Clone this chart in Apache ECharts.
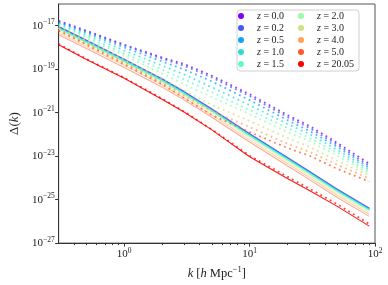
<!DOCTYPE html>
<html><head><meta charset="utf-8">
<script src="https://cdn.jsdelivr.net/npm/echarts@6/dist/echarts.min.js"></script>
<style>html,body{margin:0;padding:0;background:#fff}#c{width:388px;height:285px}</style>
</head><body><div id="c"></div>
<script>
// wavenumbers k [h/Mpc]
const K = [0.3, 0.5, 1, 2, 3, 5, 10, 20, 30, 50, 90];
const zLabels = ['0.0','0.2','0.5','1.0','1.5','2.0','3.0','4.0','5.0','20.05'];
const colors = ['#8000ff','#4757fb','#0ea4f0','#2adddd','#63fbc3','#9cfba4','#d4dd80','#ffa457','#ff572c','#ff0000'];

// log10 Δ(k), dotted (upper) curves
const dot_z00 = [-16.77,-17.23,-17.87,-18.46,-18.76,-19.30,-20.15,-21.11,-21.61,-22.39,-23.35];
const dot_z02 = [-16.82,-17.27,-17.91,-18.51,-18.84,-19.38,-20.24,-21.20,-21.70,-22.48,-23.44];
const dot_z05 = [-16.86,-17.32,-18.00,-18.64,-19.01,-19.56,-20.42,-21.34,-21.84,-22.57,-23.53];
const dot_z10 = [-16.91,-17.41,-18.14,-18.83,-19.24,-19.83,-20.65,-21.52,-21.98,-22.71,-23.62];
const dot_z15 = [-16.95,-17.50,-18.28,-19.01,-19.47,-20.06,-20.88,-21.70,-22.16,-22.84,-23.71];
const dot_z20 = [-17.00,-17.59,-18.37,-19.19,-19.69,-20.29,-21.06,-21.89,-22.30,-22.98,-23.80];
const dot_z30 = [-17.09,-17.68,-18.55,-19.42,-19.97,-20.65,-21.38,-22.16,-22.57,-23.21,-23.89];
const dot_z40 = [-17.18,-17.82,-18.69,-19.60,-20.20,-20.93,-21.66,-22.43,-22.80,-23.39,-24.03];
const dot_z50 = [-17.23,-17.87,-18.78,-19.69,-20.33,-21.11,-21.89,-22.62,-22.98,-23.58,-24.17];
const dot_z2005 = [-17.84,-18.53,-19.39,-20.35,-20.95,-21.77,-22.98,-23.94,-24.49,-25.21,-26.12];

// log10 Δ(k), solid (lower) curves
const sol_z00 = [-17.05,-17.68,-18.55,-19.45,-20.04,-20.84,-21.98,-23.07,-23.71,-24.53,-25.40];
const sol_z02 = [-17.07,-17.70,-18.57,-19.47,-20.06,-20.86,-22.00,-23.09,-23.73,-24.55,-25.42];
const sol_z05 = [-17.09,-17.72,-18.59,-19.49,-20.08,-20.88,-22.02,-23.11,-23.75,-24.57,-25.44];
const sol_z10 = [-17.11,-17.74,-18.61,-19.51,-20.10,-20.90,-22.04,-23.13,-23.77,-24.59,-25.46];
const sol_z15 = [-17.13,-17.76,-18.63,-19.53,-20.12,-20.92,-22.06,-23.15,-23.79,-24.61,-25.48];
const sol_z20 = [-17.14,-17.77,-18.64,-19.54,-20.13,-20.93,-22.07,-23.16,-23.80,-24.62,-25.49];
const sol_z30 = [-17.23,-17.86,-18.73,-19.63,-20.22,-21.02,-22.16,-23.25,-23.89,-24.71,-25.58];
const sol_z40 = [-17.32,-17.95,-18.82,-19.72,-20.31,-21.11,-22.25,-23.34,-23.98,-24.80,-25.67];
const sol_z50 = [-17.42,-18.05,-18.92,-19.82,-20.41,-21.21,-22.35,-23.44,-24.08,-24.90,-25.77];
const sol_z2005 = [-17.87,-18.55,-19.42,-20.38,-20.97,-21.79,-23.03,-24.03,-24.58,-25.31,-26.22];

const dotted = [dot_z00,dot_z02,dot_z05,dot_z10,dot_z15,dot_z20,dot_z30,dot_z40,dot_z50,dot_z2005];
const solid = [sol_z00,sol_z02,sol_z05,sol_z10,sol_z15,sol_z20,sol_z30,sol_z40,sol_z50,sol_z2005];

const yTicks = [1e-27,1e-25,1e-23,1e-21,1e-19,1e-17];
const xTicks = [1,10,100];
const xMinor = [0.4,0.5,0.6,0.7,0.8,0.9,2,3,4,5,6,7,8,9,20,30,40,50,60,70,80,90];

const serif = 'Liberation Serif';
const pts = arr => K.map((k,i) => [k, Math.pow(10, arr[i])]);

const series = [];
solid.forEach((arr,i) => {
  series.push({
    name: 'lin ' + zLabels[i], type: 'line', data: pts(arr), showSymbol: false, silent: true,
    lineStyle: {color: colors[i], width: i < 5 ? 1.6 : 1.1, opacity: i < 5 ? 0.75 : (i === 9 ? 0.9 : 0.5)},
    itemStyle: {color: colors[i]}, z: 2
  });
});
dotted.forEach((arr,i) => {
  series.push({
    name: 'z = ' + zLabels[i], type: 'line', data: pts(arr), showSymbol: false, silent: true,
    lineStyle: {color: colors[i], width: 1.8, type: [1.8, 3.6], opacity: 0.75},
    itemStyle: {color: colors[i]}, z: 3
  });
});

const supLabel = v => {
  const e = Math.round(Math.log10(v));
  return '{b|10}{s|' + (e < 0 ? '\u2212' + (-e) : e) + '}';
};
const labelRich = {
  b: {fontFamily: serif, fontSize: 11, color: '#222'},
  s: {fontFamily: serif, fontSize: 7.5, color: '#222', padding: [0,0,7,0]}
};

const chart = echarts.init(document.getElementById('c'), null, {renderer: 'canvas'});
chart.setOption({
  animation: false,
  backgroundColor: '#fff',
  grid: {left: 53, right: 13, top: 4, bottom: 40, show: true, borderColor: '#555', borderWidth: 1, backgroundColor: 'transparent'},
  legend: {
    data: zLabels.map(z => 'z = ' + z),
    orient: 'vertical', left: 237, top: 10, height: 60,
    itemWidth: 22, itemHeight: 6, itemGap: 2, icon: 'circle',
    padding: [1, 3, 2, 1],
    borderColor: '#d0d0d0', borderWidth: 1, borderRadius: 3, backgroundColor: 'rgba(255,255,255,0.85)',
    formatter: n => '{i|z} = ' + n.slice(4),
    textStyle: {fontFamily: serif, fontSize: 10, color: '#222', width: 39, lineHeight: 10,
      rich: {i: {fontFamily: serif, fontStyle: 'italic', fontSize: 10, color: '#222'}}}
  },
  xAxis: [{
    type: 'log', logBase: 10, min: 0.3, max: 100,
    name: '{i|k} [{i|h} Mpc{s|\u22121}]', nameLocation: 'middle', nameGap: 20,
    nameTextStyle: {fontFamily: serif, fontSize: 12.5, color: '#222',
      rich: {i: {fontFamily: serif, fontStyle: 'italic', fontSize: 12.5, color: '#222'},
             s: {fontFamily: serif, fontSize: 8.5, color: '#222', padding: [0,0,8,0]}}},
    axisLine: {show: true, lineStyle: {color: '#333', width: 1}},
    axisTick: {show: true, length: 3.5, inside: false, customValues: xTicks, lineStyle: {color: '#333'}},
    axisLabel: {customValues: xTicks, formatter: supLabel, margin: 4, rich: labelRich},
    splitLine: {show: false}, minorTick: {show: false}
  }, {
    type: 'log', logBase: 10, min: 0.3, max: 100, position: 'bottom',
    axisLine: {show: false},
    axisTick: {show: true, length: 2, customValues: xMinor, lineStyle: {color: '#333'}},
    axisLabel: {show: false}, splitLine: {show: false}
  }],
  yAxis: {
    type: 'log', logBase: 10, min: 1e-27, max: 1e-16,
    name: '{d|\u0394}({i|k})', nameLocation: 'middle', nameGap: 34, nameRotate: 90,
    nameTextStyle: {fontFamily: serif, fontSize: 13, color: '#222',
      rich: {d: {fontFamily: serif, fontSize: 13, color: '#222'},
             i: {fontFamily: serif, fontStyle: 'italic', fontSize: 13, color: '#222'}}},
    axisLine: {show: true, lineStyle: {color: '#333', width: 1}},
    axisTick: {show: true, length: 3.5, customValues: yTicks, lineStyle: {color: '#333'}},
    axisLabel: {customValues: yTicks, formatter: supLabel, margin: 4, rich: labelRich},
    splitLine: {show: false}
  },
  series: series
});
</script></body></html>
